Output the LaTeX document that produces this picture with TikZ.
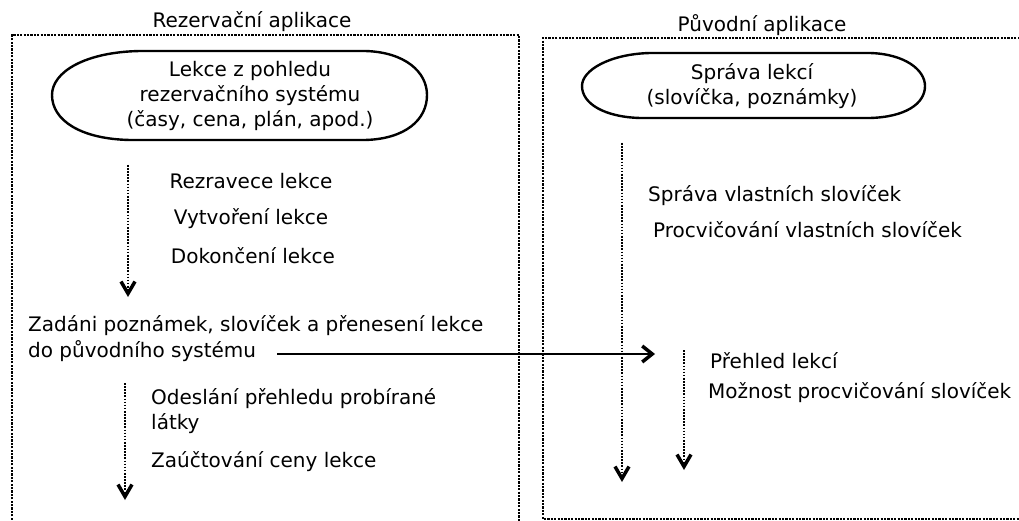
\documentclass[tikz,border=0pt]{standalone}
\usepackage{fontspec}
\setmainfont{DejaVu Sans}
\usetikzlibrary{arrows.meta}
\tikzset{
  x=1pt, y=-1pt,
  lbl/.style={inner sep=0pt, font=\fontsize{20}{25}\selectfont},
  boxline/.style={line width=2.6pt, dash pattern=on 2.2pt off 1.2pt},
  flow/.style={line width=2pt, dash pattern=on 1.6pt off 1.5pt,
    -{Straight Barb[length=12pt,width=14pt,line width=3.5pt]}},
  transfer/.style={line width=2.6pt,
    -{Straight Barb[length=10pt,width=16pt,line width=3.5pt]}},
  bubble/.style={line width=2.4pt}
}
\begin{document}
\begin{tikzpicture}
\useasboundingbox (0,0) rectangle (1019,521);
\clip (0,0) rectangle (1019,521);
% boxes
\draw[boxline] (12,530) -- (12,35) -- (519,35) -- (519,530);
\draw[boxline] (1030,38) -- (543,38) -- (543,519) -- (1030,519);
% titles
\node[lbl, anchor=base] (tl) at (252,28) {Rezervační aplikace};
\node[lbl, anchor=base] (tr) at (762,32) {Původní aplikace};
% ellipses
\draw[bubble] (140,51) -- (365,51) .. controls (405,52) and (427,72) .. (427,95)
  .. controls (427,120) and (405,139) .. (365,140) -- (130,140)
  .. controls (80,139) and (52,120) .. (52,95) .. controls (52,72) and (85,52) .. (140,51) -- cycle;
\node[lbl, align=center, anchor=base] (e1) at (250,127) {Lekce z pohledu\\rezervačního systému\\(časy, cena, plán, apod.)};
\draw[bubble] (650,53) -- (870,53) .. controls (905,54) and (925,70) .. (925,86)
  .. controls (925,104) and (905,117) .. (870,118) -- (640,118)
  .. controls (605,117) and (582,104) .. (582,86) .. controls (582,70) and (610,54) .. (650,53) -- cycle;
\node[lbl, align=center, anchor=base] (e2) at (752,105) {Správa lekcí\\(slovíčka, poznámky)};
% left texts
\node[lbl, anchor=base] (s1) at (251,189) {Rezravece lekce};
\node[lbl, anchor=base] (s2) at (251,225) {Vytvoření lekce};
\node[lbl, anchor=base] (s3) at (253,263) {Dokončení lekce};
\node[lbl, anchor=base west] (z1) at (28,331) {Zadáni poznámek, slovíček a přenesení lekce};
\node[lbl, anchor=base west] (z2) at (28,357) {do původního systému};
\node[lbl, anchor=base west] (o1) at (151,404) {Odeslání přehledu probírané};
\node[lbl, anchor=base west] (o2) at (151,429) {látky};
\node[lbl, anchor=base west] (o3) at (151,467) {Zaúčtování ceny lekce};
% right texts
\node[lbl, anchor=base west] (r1) at (648,202) {Správa vlastních slovíček};
\node[lbl, anchor=base west] (r2) at (653,237) {Procvičování vlastních slovíček};
\node[lbl, anchor=base west] (p1) at (710,368) {Přehled lekcí};
\node[lbl, anchor=base west] (p2) at (708,398) {Možnost procvičování slovíček};
% arrow coordinates
\coordinate (a1s) at (128,165); \coordinate (a1e) at (128,297);
\coordinate (a2s) at (125,383); \coordinate (a2e) at (125,500);
\coordinate (a3s) at (622,143); \coordinate (a3e) at (622,482);
\coordinate (a4s) at (684,350); \coordinate (a4e) at (684,470);
\coordinate (hs) at (277,354); \coordinate (he) at (655,354);
\draw[flow] (a1s) -- (a1e);
\draw[flow] (a2s) -- (a2e);
\draw[flow] (a3s) -- (a3e);
\draw[flow] (a4s) -- (a4e);
\draw[transfer] (hs) -- (he);
\end{tikzpicture}
\end{document}
